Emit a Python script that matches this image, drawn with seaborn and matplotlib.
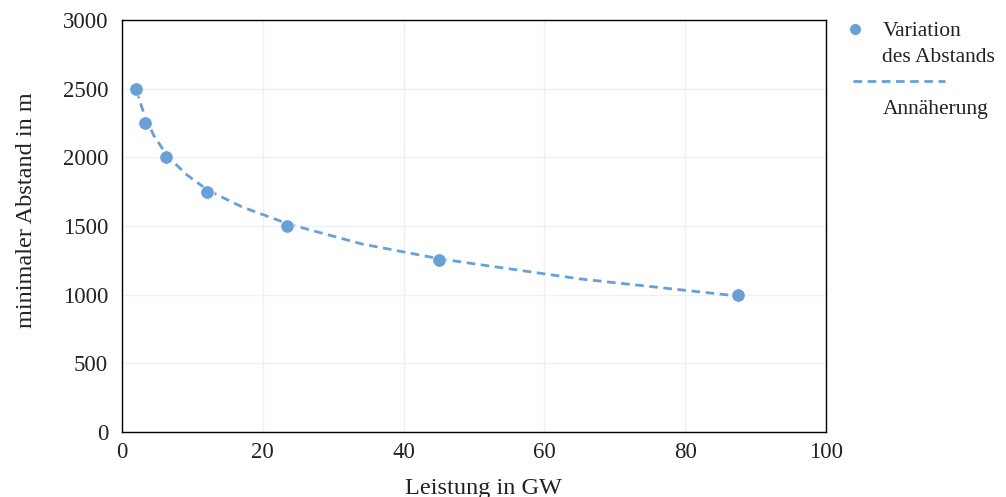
import matplotlib
matplotlib.use("Agg")
import matplotlib.pyplot as plt
import seaborn as sns
import pandas as pd
from matplotlib.lines import Line2D

# data
leistung = [2.0, 3.3, 6.3, 12.1, 23.4, 45.0, 87.5]
abstand = [2500, 2250, 2000, 1750, 1500, 1250, 1000]
fit_x = [2.0, 3.3, 4.5, 6.3, 9.0, 12.2, 17.0, 23.6, 34.0, 45.2, 65.0, 87.5]
fit_y = [2490, 2290, 2160, 2020, 1880, 1760, 1640, 1515, 1370, 1260, 1115, 990]
x_ticks = [0, 20, 40, 60, 80, 100]
y_ticks = [0, 500, 1000, 1500, 2000, 2500, 3000]

blue = "#6a9fd8"
grid_c = "#edf0f7"
text_c = "#222222"
dash = (0, (3.1, 2.0))

sns.set_theme(style="white")
plt.rcParams["font.family"] = ["Liberation Serif", "DejaVu Serif"]

df_pts = pd.DataFrame({"x": leistung, "y": abstand})
df_fit = pd.DataFrame({"x": fit_x, "y": fit_y})

fig = plt.figure(figsize=(10.06, 4.97), dpi=100)
ax = fig.add_axes([0.1213, 0.1308, 0.6998, 0.829])

sns.lineplot(data=df_fit, x="x", y="y", ax=ax, color=blue, linewidth=2.0,
             linestyle=dash, zorder=2)
sns.scatterplot(data=df_pts, x="x", y="y", ax=ax, color=blue, s=95,
                edgecolor="white", linewidth=0.6, zorder=3)

ax.set_xlim(0, 100)
ax.set_ylim(0, 3000)
ax.set_xticks(x_ticks)
ax.set_yticks(y_ticks)
ax.grid(True, color=grid_c, linewidth=1.0)
ax.set_axisbelow(True)
for sp in ax.spines.values():
    sp.set_color("black")
    sp.set_linewidth(1.0)
ax.tick_params(axis="both", length=0, labelsize=16.5, colors=text_c)
ax.tick_params(axis="y", pad=10)
ax.tick_params(axis="x", pad=7)
ax.set_xlabel("Leistung in GW", fontsize=17.5, color=text_c)
ax.set_ylabel("minimaler Abstand in m", fontsize=17.5, color=text_c)
ax.xaxis.set_label_coords(0.514, -0.112)
ax.yaxis.set_label_coords(-0.121, 0.539)

fs = 15.5
h_pt = Line2D([], [], marker="o", linestyle="none", color=blue, markersize=8.5,
              markeredgecolor="white", markeredgewidth=0.5)
h_blank = Line2D([], [], linestyle="none")
leg_a = ax.legend(handles=[h_pt, h_blank, h_blank, h_blank],
                  labels=["Variation", "des Abstands", " ", "Annäherung"],
                  loc="upper left", bbox_to_anchor=(1.031, 0.997), frameon=False,
                  fontsize=fs, handlelength=0.65, handletextpad=0.95,
                  labelspacing=0.27, borderaxespad=0, borderpad=0)
for t in leg_a.get_texts():
    t.set_color(text_c)
ax.add_artist(leg_a)

h_ln = Line2D([], [], color=blue, linewidth=2.0, linestyle=dash)
leg_b = ax.legend(handles=[h_ln], labels=[""], loc="center left",
                  bbox_to_anchor=(1.038, 0.846), frameon=False, fontsize=fs,
                  handlelength=4.3, handletextpad=0, borderaxespad=0, borderpad=0)

fig.savefig("out.png", dpi=100)
